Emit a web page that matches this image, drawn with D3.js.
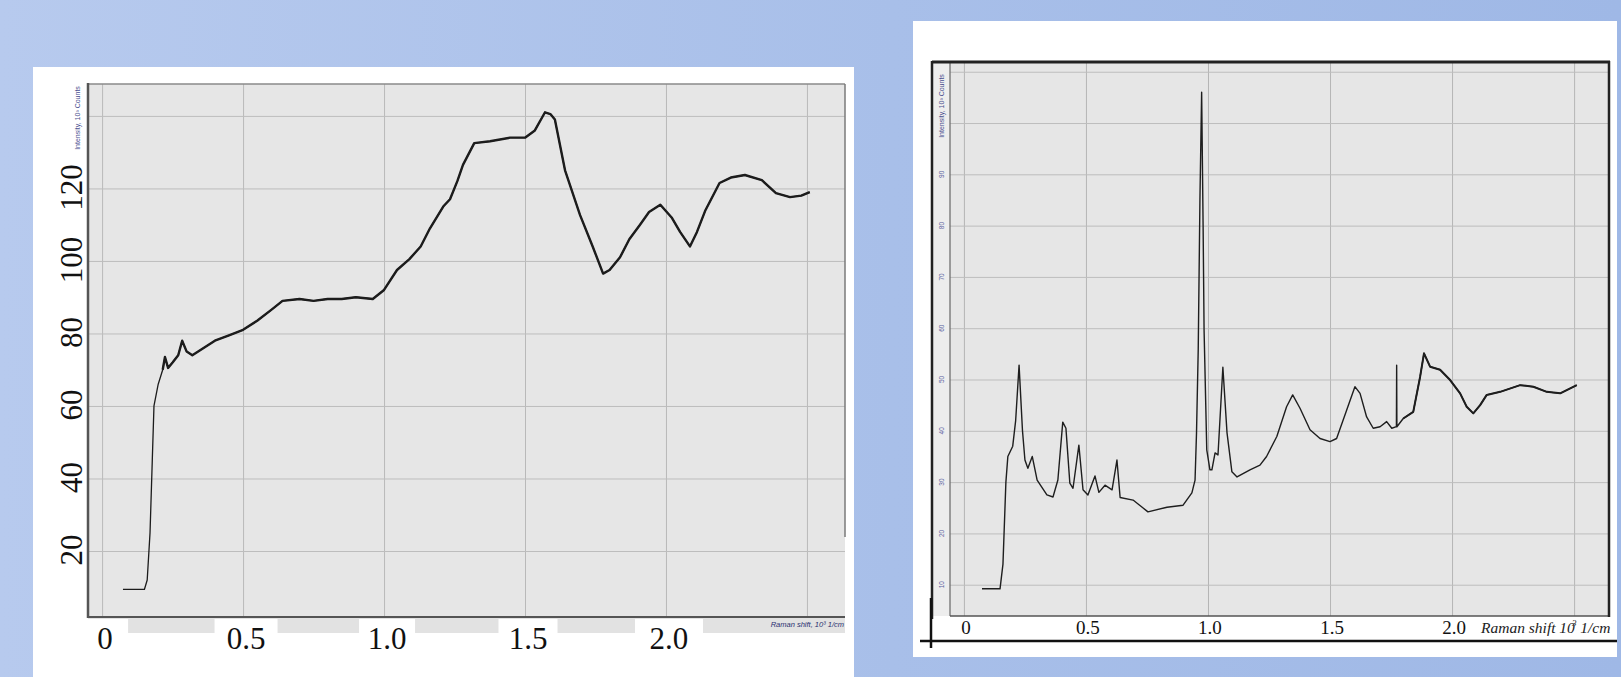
<!DOCTYPE html>
<html><head><meta charset="utf-8">
<script src="https://cdn.jsdelivr.net/npm/d3@7/dist/d3.min.js"></script>
<style>body{margin:0;padding:0;overflow:hidden;background:#a9c0ea}</style>
</head><body>
<svg id="c" width="1621" height="677"></svg>
<script>
// ---------- DATA ----------
// Left spectrum (Raman shift, 10^3 1/cm  vs  Intensity, 10^3 counts)
const leftX = [0.074,0.15,0.16,0.17,0.178,0.184,0.199,0.215,0.223,0.234,0.25,0.27,0.284,0.3,0.32,0.36,0.4,0.45,0.5,0.55,0.6,0.64,0.7,0.75,0.8,0.85,0.9,0.96,1.0,1.046,1.09,1.13,1.163,1.21,1.234,1.26,1.28,1.32,1.376,1.447,1.5,1.535,1.571,1.59,1.606,1.642,1.695,1.74,1.777,1.8,1.837,1.87,1.908,1.94,1.98,2.02,2.05,2.085,2.11,2.14,2.19,2.23,2.28,2.34,2.39,2.44,2.48,2.51];
const leftY = [9.4,9.4,12,25,45,60,66,70,73.5,70.5,72,74,78,75,74,76,78,79.5,81,83.5,86.5,89,89.5,89,89.5,89.5,90,89.5,92,97.5,100.5,104,109,115,117,122,126.5,132.5,133,134,134,136,141,140.5,139,125,112.7,104,96.5,97.5,101,106,110,113.5,115.5,112,108,104,108,114,121.5,123,123.7,122.3,118.7,117.6,118,119];
// Right spectrum
const rightX = [0.074,0.148,0.16,0.172,0.18,0.2,0.212,0.226,0.24,0.25,0.262,0.28,0.3,0.34,0.365,0.385,0.405,0.418,0.434,0.447,0.471,0.488,0.508,0.537,0.553,0.578,0.607,0.627,0.64,0.693,0.72,0.754,0.832,0.898,0.934,0.947,0.953,0.96,0.967,0.974,0.98,0.984,0.995,1.008,1.016,1.029,1.041,1.061,1.078,1.098,1.119,1.172,1.213,1.24,1.282,1.322,1.347,1.377,1.418,1.459,1.5,1.527,1.568,1.602,1.623,1.65,1.677,1.705,1.732,1.753,1.772,1.773,1.774,1.8,1.841,1.869,1.885,1.91,1.951,1.992,2.033,2.06,2.087,2.115,2.142,2.197,2.279,2.333,2.388,2.443,2.511];
const rightY = [9.2,9.2,14,30,35,37,42,52.8,40,34.3,32.7,35,30.4,27.5,27.1,30.4,41.7,40.5,29.8,28.8,37.2,28.5,27.5,31.2,28,29.4,28.5,34.3,27,26.5,25.5,24.2,25.1,25.5,27.9,30.4,39.6,55.8,85,106,80,59.6,36.3,32.4,32.4,35.7,35.3,52.4,39.6,32,31,32.4,33.3,35,38.9,44.7,47,44.4,40.2,38.5,37.9,38.5,44,48.6,47.3,42.7,40.5,40.8,41.8,40.5,40.8,52.8,40.8,42.4,43.7,50.5,55.1,52.5,51.9,49.9,47.3,44.7,43.4,45,47,47.6,48.9,48.6,47.6,47.3,48.9];

// Ticks
const xTickValues = [0, 0.5, 1.0, 1.5, 2.0];
const xTickLabels = ["0", "0.5", "1.0", "1.5", "2.0"];
const xGrid = [0, 0.5, 1.0, 1.5, 2.0, 2.5];
const leftYTicks = [20, 40, 60, 80, 100, 120];
const leftYGrid = [20, 40, 60, 80, 100, 120, 140];
const rightYTicks = [10, 20, 30, 40, 50, 60, 70, 80, 90];
const rightYGrid = [10, 20, 30, 40, 50, 60, 70, 80, 90, 100, 110];
const yTitle = "Intensity, 10³ Counts";
const leftXTitle = "Raman shift, 10³ 1/cm";

// ---------- DRAW ----------
const svg = d3.select("#c");
const defs = svg.append("defs");
const g = defs.append("linearGradient").attr("id","bg").attr("x1","0").attr("x2","1").attr("y1","0").attr("y2","0");
g.append("stop").attr("offset","0").attr("stop-color","#b7caee");
g.append("stop").attr("offset","0.55").attr("stop-color","#a8bfe9");
g.append("stop").attr("offset","1").attr("stop-color","#9fb8e6");
svg.append("rect").attr("width",1621).attr("height",677).attr("fill","url(#bg)");

// ===== LEFT PANEL =====
svg.append("rect").attr("x",33).attr("y",67).attr("width",821).attr("height",612).attr("fill","#ffffff");
const lx = d3.scaleLinear().domain([-0.05, 2.635]).range([88, 845]);
const ly = d3.scaleLinear().domain([1.8, 148.8]).range([617, 84]);
const L = svg.append("g");
L.append("rect").attr("x",88).attr("y",84).attr("width",757).attr("height",533).attr("fill","#e6e6e6");
L.append("rect").attr("x",88).attr("y",617).attr("width",757).attr("height",16).attr("fill","#e2e2e2");
L.append("g").attr("transform","translate(0,617)")
  .call(d3.axisBottom(lx).tickValues(xGrid).tickSize(-533).tickFormat(""))
  .call(s=>{s.select(".domain").remove(); s.selectAll("line").attr("stroke","#b9b9b9").attr("stroke-width",1);});
L.append("g").attr("transform","translate(88,0)")
  .call(d3.axisLeft(ly).tickValues(leftYGrid).tickSize(-757).tickFormat(""))
  .call(s=>{s.select(".domain").remove(); s.selectAll("line").attr("stroke","#bdbdbd").attr("stroke-width",1);});
L.append("line").attr("x1",88).attr("x2",845).attr("y1",84).attr("y2",84).attr("stroke","#8a8a8a").attr("stroke-width",1.5);
L.append("line").attr("x1",845).attr("x2",845).attr("y1",84).attr("y2",537).attr("stroke","#7a7a7a").attr("stroke-width",1.5);
L.append("line").attr("x1",88).attr("x2",88).attr("y1",83).attr("y2",618).attr("stroke","#555").attr("stroke-width",2.5);
L.append("line").attr("x1",88).attr("x2",845).attr("y1",617).attr("y2",617).attr("stroke","#555").attr("stroke-width",2);
// trace: thin full line + thicker overlay where the signal is noisy
const lPts = leftX.map((x,i)=>[x,leftY[i]]);
const lLine = d3.line().x(d=>lx(d[0])).y(d=>ly(d[1]));
L.append("path").datum(lPts).attr("d", lLine)
  .attr("fill","none").attr("stroke","#1c1c1c").attr("stroke-width",1.3).attr("stroke-linejoin","round");
L.append("path").datum(lPts.filter(d=>d[0]>=0.2)).attr("d", lLine)
  .attr("fill","none").attr("stroke","#1c1c1c").attr("stroke-width",2.4).attr("stroke-linejoin","round");
const lBoxW = [46, 63, 56, 59, 68];
xTickValues.forEach((v,i)=>{
  L.append("rect").attr("x",lx(v)-lBoxW[i]/2+3).attr("y",619).attr("width",lBoxW[i]).attr("height",40).attr("fill","#fff");
});
L.selectAll("text.xt").data(xTickValues).join("text").attr("class","xt")
  .attr("x",d=>lx(d)+3).attr("y",649).attr("text-anchor","middle")
  .attr("font-family","Liberation Serif, serif").attr("font-size",31).attr("fill","#111")
  .text((d,i)=>xTickLabels[i]);
L.selectAll("text.yt").data(leftYTicks).join("text").attr("class","yt")
  .attr("transform",d=>`translate(71,${ly(d)-1}) rotate(-90)`)
  .attr("text-anchor","middle").attr("dominant-baseline","central")
  .attr("font-family","Liberation Serif, serif").attr("font-size",31).attr("fill","#111")
  .text(d=>d);
L.append("text").attr("transform","translate(77,118) rotate(-90)").attr("text-anchor","middle")
  .attr("dominant-baseline","central").attr("font-family","Liberation Sans, Arial, sans-serif")
  .attr("font-size",7).attr("fill","#4a4f8f").text(yTitle);
L.append("text").attr("x",844).attr("y",627).attr("text-anchor","end")
  .attr("font-family","Liberation Sans, Arial, sans-serif").attr("font-style","italic")
  .attr("font-size",7.5).attr("fill","#2a3070").text(leftXTitle);

// ===== RIGHT PANEL =====
svg.append("rect").attr("x",913).attr("y",21).attr("width",704).attr("height",636).attr("fill","#ffffff");
const rx = d3.scaleLinear().domain([-0.057, 2.643]).range([950, 1609]);
const ry = d3.scaleLinear().domain([3.9, 111.7]).range([616, 63]);
const R = svg.append("g");
R.append("rect").attr("x",933).attr("y",63).attr("width",17).attr("height",553).attr("fill","#ededed");
R.append("rect").attr("x",950).attr("y",63).attr("width",659).attr("height",553).attr("fill","#e6e6e6");
R.append("g").attr("transform","translate(0,616)")
  .call(d3.axisBottom(rx).tickValues(xGrid).tickSize(-553).tickFormat(""))
  .call(s=>{s.select(".domain").remove(); s.selectAll("line").attr("stroke","#b5b5b5").attr("stroke-width",1);});
R.append("g").attr("transform","translate(950,0)")
  .call(d3.axisLeft(ry).tickValues(rightYGrid).tickSize(-659).tickFormat(""))
  .call(s=>{s.select(".domain").remove(); s.selectAll("line").attr("stroke","#bdbdbd").attr("stroke-width",1);});
R.append("line").attr("x1",950).attr("x2",950).attr("y1",63).attr("y2",616).attr("stroke","#666").attr("stroke-width",1.2);
R.append("line").attr("x1",950).attr("x2",1609).attr("y1",616).attr("y2",616).attr("stroke","#555").attr("stroke-width",1.5);
R.append("line").attr("x1",932).attr("x2",1610).attr("y1",62).attr("y2",62).attr("stroke","#222").attr("stroke-width",3);
R.append("line").attr("x1",1609).attr("x2",1609).attr("y1",61).attr("y2",617).attr("stroke","#222").attr("stroke-width",2.5);
R.append("line").attr("x1",932).attr("x2",932).attr("y1",61).attr("y2",619).attr("stroke","#222").attr("stroke-width",2.5);
R.append("line").attr("x1",931).attr("x2",931).attr("y1",598).attr("y2",648).attr("stroke","#111").attr("stroke-width",2.5);
R.append("line").attr("x1",920).attr("x2",1617).attr("y1",641).attr("y2",641).attr("stroke","#111").attr("stroke-width",2.5);
const rPts = rightX.map((x,i)=>[x,rightY[i]]);
const rLine = d3.line().x(d=>rx(d[0])).y(d=>ry(d[1]));
R.append("path").datum(rPts).attr("d", rLine)
  .attr("fill","none").attr("stroke","#1e1e1e").attr("stroke-width",1.4).attr("stroke-linejoin","round");
R.append("path").datum(rPts.filter(d=>d[0]>=1.8)).attr("d", rLine)
  .attr("fill","none").attr("stroke","#1e1e1e").attr("stroke-width",2).attr("stroke-linejoin","round");
R.selectAll("text.xt").data(xTickValues).join("text").attr("class","xt")
  .attr("x",d=>rx(d)+2).attr("y",634).attr("text-anchor","middle")
  .attr("font-family","Liberation Serif, serif").attr("font-size",19).attr("fill","#111")
  .text((d,i)=>xTickLabels[i]);
R.selectAll("text.yt").data(rightYTicks).join("text").attr("class","yt")
  .attr("transform",d=>`translate(941,${ry(d)}) rotate(-90)`)
  .attr("text-anchor","middle").attr("dominant-baseline","central")
  .attr("font-family","Liberation Sans, Arial, sans-serif").attr("font-size",6.5).attr("fill","#5a5f9f")
  .text(d=>d);
R.append("text").attr("transform","translate(941,106) rotate(-90)").attr("text-anchor","middle")
  .attr("dominant-baseline","central").attr("font-family","Liberation Sans, Arial, sans-serif")
  .attr("font-size",7).attr("fill","#4a4f8f").text(yTitle);
const t = R.append("text").attr("x",1481).attr("y",633)
  .attr("font-family","Liberation Serif, serif").attr("font-style","italic")
  .attr("font-size",15.5).attr("fill","#222");
t.append("tspan").text("Raman shift 10");
t.append("tspan").attr("dy",-7).attr("dx",-3).attr("font-size",9).text("3");
t.append("tspan").attr("dy",7).text(" 1/cm");
</script>
</body></html>
